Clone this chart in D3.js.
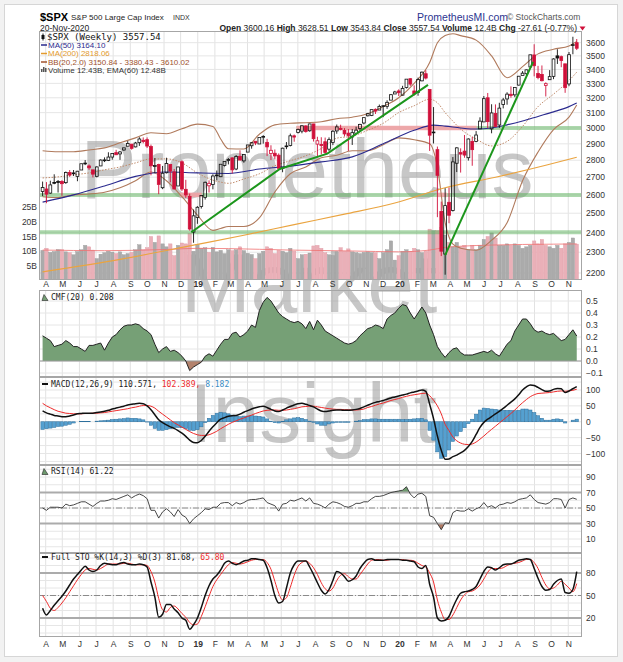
<!DOCTYPE html>
<html><head><meta charset="utf-8">
<script src="https://cdn.jsdelivr.net/npm/d3@7"></script>
<style>
html,body{margin:0;padding:0;background:#f2f2f2;}
svg{display:block;}
</style></head><body>
<svg id="chart" width="623" height="662"></svg>
<script>
// ---------- DATA (weekly) ----------
const weekEnding = d3.timeFriday.range(new Date(2018,2,30), new Date(2020,10,21)); // 139 weekly bars

const open=[2619,2633,2610,2670,2675,2675,2669,2727,2725,2705,2742,2783,2766,2743,2705,2766,2797,2799,2819,2846,2838,2862,2885,2898,2881,2907,2922,2926,2883,2764,2774,2640,2726,2774,2731,2650,2791,2631,2591,2401,
2477,2536,2585,2651,2658,2713,2703,2769,2798,2814,2748,2823,2796,2849,2888,2916,2899,2941,2909,2840,2842,2830,2752,2886,2890,2950,2971,2980,3013,2982,3026,2898,2896,2913,2867,2909,2981,2996,2984,2967,2943,2966,2996,3032,3079,3081,3122,3117,3144,3142,3184,3226,
3247,3218,3271,3333,3247,3236,3318,3369,3258,2974,2864,2509,2291,2559,2515,2782,2846,2855,2815,2915,2914,2994,3039,3200,2994,3094,3019,3155,3192,3224,3220,3288,3356,3369,3418,3507,3370,3364,3286,3326,3350,3500,3494,3441,3296,3583,3600.16];
const high=[2675,2672,2680,2717,2684,2683,2733,2742,2742,2737,2780,2801,2775,2743,2764,2805,2817,2848,2841,2863,2856,2876,2917,2898,2912,2941,2940,2940,2895,2813,2779,2766,2815,2776,2748,2761,2800,2685,2607,2520,
2538,2598,2675,2682,2717,2739,2776,2794,2813,2817,2831,2860,2836,2893,2911,2916,2940,2954,2931,2891,2865,2841,2876,2911,2964,2958,2996,3018,3017,3028,3027,2944,2941,2939,2940,2986,3022,3021,2999,2993,2993,3008,3027,3067,3098,3120,3128,3154,3151,3183,3226,3248,
3258,3283,3330,3338,3286,3341,3385,3394,3260,3137,2883,2563,2637,2641,2819,2879,2872,2955,2934,2944,2980,3069,3212,3233,3156,3155,3166,3199,3238,3279,3272,3353,3388,3400,3509,3588,3426,3429,3307,3395,3482,3550,3502,3441,3529,3646,3628.51];
const low=[2593,2554,2606,2660,2613,2595,2662,2702,2707,2677,2742,2771,2743,2699,2699,2765,2789,2795,2803,2831,2802,2857,2885,2864,2878,2887,2903,2874,2711,2724,2604,2632,2722,2671,2631,2650,2622,2583,2409,2347,
2444,2525,2574,2613,2631,2682,2701,2763,2775,2722,2741,2801,2785,2849,2870,2892,2899,2901,2825,2801,2805,2751,2729,2867,2884,2913,2965,2966,2970,2976,2914,2822,2835,2835,2856,2892,2963,2985,2946,2856,2893,2965,2979,3023,3075,3077,3091,3117,3070,3125,3183,3226,
3212,3215,3264,3282,3215,3214,3315,3328,2856,2902,2479,2281,2192,2447,2509,2730,2727,2815,2798,2767,2910,2994,3039,2999,2966,3005,3000,3128,3153,3200,3204,3285,3356,3355,3418,3350,3329,3314,3209,3324,3330,3440,3416,3234,3280,3512,3543.84];
const close=[2641,2604,2656,2670,2670,2663,2728,2713,2721,2735,2779,2780,2755,2718,2760,2801,2802,2819,2840,2833,2850,2875,2902,2872,2905,2930,2914,2886,2767,2768,2659,2723,2781,2736,2633,2760,2633,2600,2417,2486,
2532,2596,2671,2665,2707,2708,2776,2793,2804,2743,2822,2801,2834,2893,2907,2905,2940,2946,2881,2860,2826,2752,2873,2887,2950,2942,2990,3014,2977,3026,2932,2919,2889,2847,2926,2979,3007,2992,2962,2952,2970,2986,3023,3067,3093,3120,3110,3141,3146,3169,3221,3240,
3235,3265,3330,3295,3226,3328,3380,3338,2954,2972,2711,2305,2541,2489,2790,2875,2837,2831,2930,2864,2955,3044,3194,3041,3098,3009,3130,3185,3225,3216,3271,3351,3373,3397,3508,3427,3341,3319,3298,3348,3477,3484,3465,3270,3509,3585,3557.54];
const volume=[10.3,11.0,9.6,9.9,10.6,10.6,9.8,9.5,8.8,9.9,10.5,12.0,11.5,10.4,7.5,9.0,9.5,10.0,9.7,9.2,9.8,8.8,9.2,9.6,10.5,12.2,10.5,11.2,15.0,13.0,15.2,12.5,11.5,12.5,8.5,12.0,12.8,12.5,16.0,10.0,
12.3,11.0,11.2,9.6,11.3,9.8,10.3,9.2,10.5,10.2,10.5,11.5,10.2,9.3,8.9,7.5,9.2,10.0,11.5,11.0,9.2,10.3,10.0,9.5,11.0,10.0,7.5,8.8,9.0,9.4,11.8,12.0,11.0,9.5,8.8,8.5,9.8,11.2,10.0,10.8,9.8,9.5,9.2,9.6,9.8,9.5,9.5,7.5,9.5,10.5,13.5,7.0,
8.5,10.0,10.5,10.0,11.0,10.5,9.5,10.0,17.5,17.0,17.0,18.0,15.5,13.0,11.5,13.0,11.5,12.0,10.5,12.0,10.5,12.0,14.0,15.0,16.2,14.5,12.0,12.0,12.5,12.0,12.5,12.0,11.0,11.5,12.0,13.5,12.5,14.0,12.0,11.5,11.0,12.0,11.0,12.5,13.0,14.5,12.43];

const volEmaWeek=[0,16,32,40,48,64,80,92,100,104,108,116,124,132,138];
const volEma=[10.4,10.2,10.6,11.0,10.9,10.4,10.1,9.8,10.4,11.3,11.7,12.1,12.3,12.4,12.48];

const ma50Week=[0,8,16,24,32,40,48,56,64,72,80,88,96,101,104,108,112,116,120,124,128,132,136,138];
const ma50=[2560,2600,2650,2705,2730,2725,2722,2748,2765,2790,2820,2900,2985,3018,3012,3000,2993,3000,3020,3045,3075,3105,3140,3164.10];
const ma200Week=[0,20,39,52,65,78,91,104,117,130,138];
const ma200=[2205,2265,2335,2385,2440,2495,2555,2640,2700,2770,2818.06];

const bbWeek=[0,4,8,12,16,20,24,28,32,36,40,44,46,48,52,56,60,64,68,72,76,80,84,88,92,96,100,102,104,106,108,112,116,120,124,128,132,136,138];
const bbUpper=[2857,2851,2851,2862,2875,2906,2937,2969,2963,2995,3025,3010,2930,2870,2868,2960,3020,3030,3034,3040,3060,3070,3092,3140,3200,3300,3450,3600,3655,3670,3655,3620,3500,3340,3420,3515,3550,3575,3610.02];
const bbMid=[2696,2702,2714,2725,2743,2760,2784,2808,2808,2784,2725,2683,2672,2665,2690,2720,2767,2797,2827,2871,2935,2948,2985,3030,3100,3146,3190,3166,3100,3044,2993,2930,2887,2915,3010,3140,3225,3320,3380.43];
const bbLower=[2590,2585,2600,2605,2615,2640,2680,2730,2680,2590,2490,2410,2420,2430,2430,2475,2616,2720,2760,2815,2830,2857,2857,2894,2937,2925,2900,2760,2450,2340,2320,2310,2360,2450,2680,2850,2990,3070,3150.84];

// support / resistance annotations
const supportPrice=[2400,2600,3000];
const supportFrom=['2018-03-23','2018-03-23','2019-07-02'];
const resistPrice=[3000,2600,2600];
const resistFrom=['2019-07-02','2018-12-03','2020-03-14'];
const resistTo=['2020-05-23','2019-01-12','2020-03-30'];
const trendA=[['2018-12-24',2400],['2019-06-02',2748],['2019-08-27',2840],['2020-02-25',3290]];
const trendB=[['2020-03-27',2286],['2020-09-02',3455]];

const cmf=[0.21,0.19,0.17,0.12,0.13,0.14,0.17,0.15,0.12,0.12,0.10,0.08,0.13,0.13,0.14,0.15,0.09,0.15,0.20,0.22,
0.26,0.29,0.30,0.30,0.31,0.30,0.27,0.25,0.22,0.14,0.07,0.10,0.12,0.08,0.09,0.07,0.04,0.00,-0.08,-0.05,
-0.03,-0.01,0.04,0.06,0.04,0.09,0.14,0.18,0.18,0.23,0.24,0.20,0.22,0.25,0.30,0.28,0.42,0.49,0.53,0.50,
0.45,0.40,0.37,0.35,0.33,0.32,0.33,0.31,0.27,0.33,0.26,0.34,0.30,0.25,0.23,0.21,0.19,0.17,0.15,0.14,
0.15,0.17,0.21,0.24,0.27,0.28,0.30,0.29,0.27,0.35,0.38,0.40,0.44,0.47,0.46,0.40,0.35,0.40,0.45,0.40,
0.30,0.22,0.12,0.07,0.03,0.07,0.10,0.11,0.07,0.05,0.05,0.05,0.06,0.07,0.08,0.07,0.09,0.06,0.04,0.09,
0.14,0.17,0.25,0.30,0.35,0.35,0.31,0.26,0.24,0.25,0.23,0.22,0.23,0.20,0.17,0.18,0.22,0.26,0.208];

const macd=[34,28,24,20,18,16,16,18,21,25,26,27,27,27,29,31,33,36,40,43,46,49,53,55,57,58,57,50,38,22,
6,-3,-10,-16,-21,-28,-36,-46,-58,-65,-66,-59,-46,-30,-16,-3,8,13,17,19,20,24,30,35,40,44,47,49,45,39,
34,32,37,43,48,53,57,58,55,51,47,40,34,32,34,36,37,37,36,36,37,39,42,47,52,57,61,64,67,71,
75,78,81,84,87,91,94,97,100,96,55,10,-45,-90,-118,-117,-110,-105,-98,-90,-78,-62,-40,-18,-2,8,16,25,33,42,
52,62,72,85,100,110,116,114,108,101,96,97,102,105,104,92,97,104,110.571];
const signal=[58,50,44,38,33,30,27,26,25,25,25,26,26,27,27,28,29,31,33,35,37,39,41,44,46,49,51,51,49,43,
33,24,15,6,-3,-10,-17,-24,-31,-37,-41,-43,-43,-41,-36,-30,-22,-15,-8,-2,3,8,12,17,21,26,30,34,36,37,
37,36,36,37,39,41,44,47,48,49,49,47,45,43,41,40,39,39,38,38,37,37,38,40,45,48,52,56,59,63,
67,70,73,77,80,83,85,87,89,90,82,68,50,25,-8,-28,-48,-60,-67,-71,-72,-70,-64,-55,-45,-34,-24,-14,-4,6,
16,26,37,49,60,70,79,85,89,90,91,92,94,96,97,96,97,99,102.389];
const hist=[-24,-22,-20,-18,-15,-14,-11,-8,-4,0,1,1,1,0,2,3,4,5,7,8,9,10,12,11,11,9,6,-1,-11,-21,
-27,-27,-25,-22,-18,-18,-19,-22,-27,-28,-25,-16,-3,11,20,27,30,28,25,21,17,16,18,18,19,18,17,15,9,2,
-3,-4,1,6,9,12,13,11,7,2,-2,-7,-11,-11,-7,-4,-2,-2,-2,-2,0,2,4,7,7,9,9,8,8,8,
8,8,8,7,7,8,9,10,11,6,-27,-58,-95,-115,-110,-89,-62,-45,-31,-19,-6,8,24,37,43,42,40,39,37,36,
36,36,35,36,40,40,37,29,19,11,5,5,8,9,7,-4,0,5,8.182];

const rsi=[50,47,51,51,51,50,55,53,54,56,58,58,55,52,56,59,59,60,62,61,63,65,67,63,66,68,66,62,47,47,
37,45,49,45,39,48,41,38,30,36,40,44,49,48,51,51,56,57,57,53,57,55,57,60,61,61,62,63,57,55,
53,46,55,56,60,59,61,63,59,63,56,55,53,50,55,58,57,55,52,51,53,56,56,58,58,62,65,65,66,68,
70,71,72,73,77.5,68,63,68,69,65,40,38,30,22,31,30,44,47,46,46,49,46,49,51,57,51,53,50,54,55,
57,56,58,61,62,63,67,61,57,56,55,57,62,62,61,50,61,63,61.22];

const stoK=[33,24,30,37,43,49,56,64,72,78,84,89,84,82,84,90,93,92,91,91,93,94,92,91,91,92,91,88,68,48,
21,25,38,38,32,27,20,17,5,11,20,34,50,63,72,77,84,93,96,93,91,93,96,97,99,99,98,97,87,70,
50,40,42,60,80,91,96,96,96,88,78,67,57,52,58,70,82,80,75,69,71,76,86,93,98,99,97,97,97,98,
98,98,98,97,97,96,95,88,86,90,65,48,20,16,17,22,34,45,53,55,56,58,62,72,82,88,87,84,87,91,
92,92,94,97,98,99,98,86,73,62,57,58,65,70,72,54,53,58,81.68];
const stoD=[50,42,33,30,34,40,47,55,63,71,78,84,86,85,84,86,89,92,92,92,92,93,93,92,91,91,91,90,82,68,
46,31,28,34,36,32,26,21,14,11,12,22,35,49,62,71,78,85,91,94,93,92,93,95,97,98,98,98,94,85,
69,53,44,47,61,77,89,94,96,93,87,78,67,59,56,60,70,77,79,75,72,72,78,85,92,97,98,98,97,97,
98,98,98,98,97,97,96,93,90,88,80,68,44,28,18,18,24,34,44,51,55,56,59,64,72,81,86,86,86,87,
90,92,93,94,96,98,98,94,86,74,64,59,60,64,69,65,60,55,65.80];

// tick labels
const priceTicks=[2200,2300,2400,2500,2600,2700,2800,2900,3000,3100,3200,3300,3400,3500,3600];
const volTicks=[5,10,15,20,25];
const cmfTicks=[-0.1,0,0.1,0.2,0.3,0.4,0.5];
const macdTicks=[-100,-50,0,50,100];
const macdGrid=[-125,-100,-75,-50,-25,0,25,50,75,100,125];
const rsiTicks=[10,30,50,70,90];
const oscGrid=[0,10,20,30,40,50,60,70,80,90,100];
const stoTicks=[20,50,80];

// ---------- LAYOUT ----------
const FONT='"Liberation Sans",Arial,sans-serif';
const MONO='"DejaVu Sans Mono",monospace';
const X0=39, X1=582;
const P={main:[31,280],cmf:[290,377],macd:[377,465],rsi:[465,553],sto:[553,637]};
const RED='#d0103a';
const parse=d3.timeParse('%Y-%m-%d');

const svg=d3.select('#chart');
svg.append('rect').attr('x',4.5).attr('y',4.5).attr('width',613).attr('height',652)
  .attr('fill','#fff').attr('stroke','#d6d6d6');

const x=d3.scaleTime().domain([new Date(2018,2,23,12),new Date(2020,10,29,12)]).range([X0,X1]);
const xi=i=>x(weekEnding[i]);
const months=d3.timeMonth.range(new Date(2018,3,1),new Date(2020,10,2));
const mx=m=>x(m)+2;

const yP=d3.scaleLog().domain([2200,3600]).range([273,42.7]);
const yV=d3.scaleLinear().domain([0,25]).range([280.75,207]);
const yC=d3.scaleLinear().domain([-0.1,0.5]).range([373,301]);
const yM=d3.scaleLinear().domain([-100,100]).range([453.5,390]);
const yR=d3.scaleLinear().domain([10,90]).range([539,477]);
const yS=d3.scaleLinear().domain([20,80]).range([618,573]);

const defs=svg.append('defs');
Object.entries(P).forEach(([k,[t,b]])=>{
  defs.append('clipPath').attr('id','clip-'+k).append('rect')
    .attr('x',X0).attr('y',t).attr('width',X1-X0).attr('height',b-t);
});

// ---------- GRIDS ----------
const grid=svg.append('g');
Object.entries(P).forEach(([k,[t,b]])=>{
  grid.append('g').selectAll('line').data(months).join('line')
    .attr('x1',mx).attr('x2',mx).attr('y1',t).attr('y2',b)
    .attr('stroke','#e2e2e2').attr('stroke-width',1);
});
function hgrid(vals,scale,k){
  grid.append('g').attr('clip-path',`url(#clip-${k})`).selectAll('line').data(vals).join('line')
    .attr('x1',X0).attr('x2',X1).attr('y1',d=>scale(d)).attr('y2',d=>scale(d))
    .attr('stroke','#e6e6e6').attr('stroke-width',1);
}
hgrid(priceTicks,yP,'main');
hgrid(cmfTicks,yC,'cmf');
hgrid(macdGrid,yM,'macd');
hgrid(oscGrid,d=>yR(d),'rsi');
hgrid(oscGrid,d=>yS(d),'sto');

// ---------- WATERMARK ----------
const wm=svg.append('g').attr('fill','#9a9a9a').attr('opacity',0.55)
  .attr('font-family',FONT).attr('font-size',84).attr('text-anchor','middle');
wm.append('text').attr('x',307).attr('y',198).text('Prometheus');
wm.append('text').attr('x',309).attr('y',312).text('Market');
wm.append('text').attr('x',313).attr('y',442).text('Insight');

// ---------- MAIN PANEL ----------
const main=svg.append('g').attr('clip-path','url(#clip-main)');
const idx=d3.range(close.length);
const isUp=i=> i===0 ? close[i]>=open[i] : close[i]>=close[i-1];

// volume
main.append('g').selectAll('rect').data(idx).join('rect')
  .attr('x',i=>xi(i)-1.7).attr('width',3.4)
  .attr('y',i=>yV(volume[i])).attr('height',i=>yV(0)-yV(volume[i]))
  .attr('fill',i=>isUp(i)?'#ababab':'#eab0b8')
  .attr('stroke',i=>isUp(i)?'#9a9a9a':'#e09aa4').attr('stroke-width',0.4);
main.append('path').datum(volEma)
  .attr('d',d3.line().x((d,k)=>xi(volEmaWeek[k])).y(d=>yV(d)).curve(d3.curveMonotoneX))
  .attr('fill','none').attr('stroke','#f07070').attr('stroke-width',1).attr('opacity',0.8);

// horizontal annotation bands
supportPrice.forEach((p,k)=>{
  main.append('line').attr('x1',x(parse(supportFrom[k]))).attr('x2',X1)
    .attr('y1',yP(p)).attr('y2',yP(p))
    .attr('stroke','#5db35d').attr('stroke-width',4).attr('opacity',0.5);
});
resistPrice.forEach((p,k)=>{
  main.append('line').attr('x1',x(parse(resistFrom[k]))).attr('x2',x(parse(resistTo[k])))
    .attr('y1',yP(p)).attr('y2',yP(p))
    .attr('stroke','#f5a3aa').attr('stroke-width',4.5).attr('opacity',0.9);
});

// bollinger, MAs
const bbLine=arr=>d3.line().x((d,k)=>xi(bbWeek[k])).y(d=>yP(d)).curve(d3.curveMonotoneX)(arr);
main.append('path').attr('d',bbLine(bbUpper)).attr('fill','none').attr('stroke','#b07a5c').attr('stroke-width',1.1);
main.append('path').attr('d',bbLine(bbLower)).attr('fill','none').attr('stroke','#b07a5c').attr('stroke-width',1.1);
main.append('path').attr('d',bbLine(bbMid)).attr('fill','none').attr('stroke','#c08a6a').attr('stroke-width',1).attr('stroke-dasharray','1.5,1.5');
main.append('path').datum(ma200)
  .attr('d',d3.line().x((d,k)=>xi(ma200Week[k])).y(d=>yP(d)).curve(d3.curveMonotoneX))
  .attr('fill','none').attr('stroke','#eaa440').attr('stroke-width',1.2);
main.append('path').datum(ma50)
  .attr('d',d3.line().x((d,k)=>xi(ma50Week[k])).y(d=>yP(d)).curve(d3.curveMonotoneX))
  .attr('fill','none').attr('stroke','#2a2a8e').attr('stroke-width',1.1);

// candles
const cg=main.append('g');
idx.forEach(i=>{
  const col=isUp(i)?'#111':RED;
  const cx=xi(i);
  const top=yP(Math.max(open[i],close[i])), bot=yP(Math.min(open[i],close[i]));
  cg.append('line').attr('x1',cx).attr('x2',cx).attr('y1',yP(high[i])).attr('y2',top).attr('stroke',col).attr('stroke-width',0.9);
  cg.append('line').attr('x1',cx).attr('x2',cx).attr('y1',bot).attr('y2',yP(low[i])).attr('stroke',col).attr('stroke-width',0.9);
  const hollow=close[i]>open[i];
  cg.append('rect').attr('x',cx-1.4).attr('width',2.8).attr('y',top).attr('height',Math.max(0.8,bot-top))
    .attr('fill',hollow?'none':col).attr('stroke',col).attr('stroke-width',0.8);
});

// trend lines
const tl=d3.line().x(d=>x(parse(d[0]))).y(d=>yP(d[1]));
[trendA,trendB].forEach(t=>main.append('path').attr('d',tl(t)).attr('fill','none')
  .attr('stroke','#1c961c').attr('stroke-width',2));

// ---------- CMF ----------
const cm=svg.append('g').attr('clip-path','url(#clip-cmf)');
const z0=yC(0);
defs.append('clipPath').attr('id','cmf-pos').append('rect').attr('x',X0).attr('y',P.cmf[0]).attr('width',X1-X0).attr('height',z0-P.cmf[0]);
defs.append('clipPath').attr('id','cmf-neg').append('rect').attr('x',X0).attr('y',z0).attr('width',X1-X0).attr('height',P.cmf[1]-z0);
const cmfArea=d3.area().x((d,i)=>xi(i)).y0(z0).y1(d=>yC(d));
cm.append('g').attr('clip-path','url(#cmf-pos)').append('path').datum(cmf).attr('d',cmfArea).attr('fill','#76a076');
cm.append('g').attr('clip-path','url(#cmf-neg)').append('path').datum(cmf).attr('d',cmfArea).attr('fill','#b3826c');
cm.append('line').attr('x1',X0).attr('x2',X1).attr('y1',z0).attr('y2',z0).attr('stroke','#9a9a9a');
cm.append('path').datum(cmf).attr('d',d3.line().x((d,i)=>xi(i)).y(d=>yC(d))).attr('fill','none').attr('stroke','#222').attr('stroke-width',1);

// ---------- MACD ----------
const mg=svg.append('g').attr('clip-path','url(#clip-macd)');
mg.append('g').selectAll('rect').data(hist).join('rect')
  .attr('x',(d,i)=>xi(i)-1.7).attr('width',3.4)
  .attr('y',d=>Math.min(yM(d),yM(0))).attr('height',d=>Math.abs(yM(d)-yM(0)))
  .attr('fill','#55a0d0').attr('stroke','#2d6f9c').attr('stroke-width',0.5);
mg.append('path').datum(signal).attr('d',d3.line().x((d,i)=>xi(i)).y(d=>yM(d)).curve(d3.curveMonotoneX))
  .attr('fill','none').attr('stroke','#ee2b2b').attr('stroke-width',1);
mg.append('path').datum(macd).attr('d',d3.line().x((d,i)=>xi(i)).y(d=>yM(d)).curve(d3.curveMonotoneX))
  .attr('fill','none').attr('stroke','#111').attr('stroke-width',1.5);

// ---------- RSI ----------
const rg=svg.append('g').attr('clip-path','url(#clip-rsi)');
const y70=yR(70), y30=yR(30);
defs.append('clipPath').attr('id','rsi-hi').append('rect').attr('x',X0).attr('y',P.rsi[0]).attr('width',X1-X0).attr('height',y70-P.rsi[0]);
defs.append('clipPath').attr('id','rsi-lo').append('rect').attr('x',X0).attr('y',y30).attr('width',X1-X0).attr('height',P.rsi[1]-y30);
rg.append('g').attr('clip-path','url(#rsi-hi)').append('path').datum(rsi)
  .attr('d',d3.area().x((d,i)=>xi(i)).y0(y70).y1(d=>yR(d))).attr('fill','#6e9a6e');
rg.append('g').attr('clip-path','url(#rsi-lo)').append('path').datum(rsi)
  .attr('d',d3.area().x((d,i)=>xi(i)).y0(y30).y1(d=>yR(d))).attr('fill','#b07a64');
[70,30].forEach(v=>rg.append('line').attr('x1',X0).attr('x2',X1).attr('y1',yR(v)).attr('y2',yR(v)).attr('stroke','#ababab').attr('stroke-width',2));
rg.append('line').attr('x1',X0).attr('x2',X1).attr('y1',yR(50)).attr('y2',yR(50)).attr('stroke','#8a8a8a').attr('stroke-dasharray','6,2,1,2');
rg.append('path').datum(rsi).attr('d',d3.line().x((d,i)=>xi(i)).y(d=>yR(d)))
  .attr('fill','none').attr('stroke','#333').attr('stroke-width',0.9);

// ---------- STO ----------
const sg=svg.append('g').attr('clip-path','url(#clip-sto)');
[80,20].forEach(v=>sg.append('line').attr('x1',X0).attr('x2',X1).attr('y1',yS(v)).attr('y2',yS(v)).attr('stroke','#ababab').attr('stroke-width',2));
sg.append('line').attr('x1',X0).attr('x2',X1).attr('y1',yS(50)).attr('y2',yS(50)).attr('stroke','#8a8a8a').attr('stroke-dasharray','6,2,1,2');
sg.append('path').datum(stoD).attr('d',d3.line().x((d,i)=>xi(i)).y(d=>yS(d)).curve(d3.curveMonotoneX))
  .attr('fill','none').attr('stroke','#ee2b2b').attr('stroke-width',1);
sg.append('path').datum(stoK).attr('d',d3.line().x((d,i)=>xi(i)).y(d=>yS(d)).curve(d3.curveMonotoneX))
  .attr('fill','none').attr('stroke','#111').attr('stroke-width',1.5);

// ---------- BORDERS ----------
Object.values(P).forEach(([t,b])=>{
  svg.append('rect').attr('x',X0+0.5).attr('y',t+0.5).attr('width',X1-X0-1).attr('height',b-t-1)
    .attr('fill','none').attr('stroke','#a6a6a6');
});

// ---------- AXES ----------
function rAxis(scale,ticks,fmt){
  const g=svg.append('g').attr('transform',`translate(${X1+2},0)`)
    .call(d3.axisRight(scale).tickValues(ticks).tickSize(0).tickPadding(2).tickFormat(fmt));
  g.select('.domain').remove();
  g.attr('font-family',FONT).attr('font-size',8.5).attr('color','#333');
}
rAxis(yP,priceTicks,d3.format('d'));
rAxis(yC,cmfTicks,d3.format('.1f'));
rAxis(yM,macdTicks,d3.format('d'));
rAxis(yR,rsiTicks,d3.format('d'));
rAxis(yS,stoTicks,d3.format('d'));
const lv=svg.append('g').attr('transform',`translate(${X0-1},0)`)
  .call(d3.axisLeft(yV).tickValues(volTicks).tickSize(0).tickPadding(1).tickFormat(d=>d+'B'));
lv.select('.domain').remove();
lv.attr('font-family',FONT).attr('font-size',8.5).attr('color','#333');

function monthAxis(yPos,pad){
  const g=svg.append('g').attr('transform',`translate(2,${yPos})`)
    .call(d3.axisBottom(x).tickValues(months).tickSize(0).tickPadding(pad)
      .tickFormat(m=>m.getMonth()===0?d3.timeFormat('%y')(m):d3.timeFormat('%b')(m)[0]));
  g.select('.domain').remove();
  g.attr('font-family',FONT).attr('font-size',8.5).attr('color','#333');
  g.selectAll('text').attr('font-weight',m=>m.getMonth()===0?'bold':'normal');
}
monthAxis(P.main[1],0.5);
monthAxis(P.sto[1],3.5);

// ---------- HEADER ----------
svg.append('text').attr('x',40).attr('y',21).attr('font-family',FONT).attr('font-size',11).attr('font-weight','bold').text('$SPX');
svg.append('text').attr('x',71).attr('y',20).attr('font-family',FONT).attr('font-size',8).attr('fill','#222').text('S&P 500 Large Cap Index');
svg.append('text').attr('x',173).attr('y',20).attr('font-family',FONT).attr('font-size',7).attr('fill','#333').text('INDX');
svg.append('text').attr('x',417).attr('y',21).attr('font-family',FONT).attr('font-size',10.5).attr('fill','#2c3590').text('PrometheusMI.com');
svg.append('text').attr('x',507).attr('y',20).attr('font-family',FONT).attr('font-size',8.5).attr('fill','#555').text('© StockCharts.com');
svg.append('text').attr('x',40).attr('y',30.5).attr('font-family',FONT).attr('font-size',8.5).attr('fill','#222').text('20-Nov-2020');
const hdr=svg.append('text').attr('x',577).attr('y',30.5).attr('text-anchor','end').attr('font-family',FONT).attr('font-size',8.5).attr('fill','#222');
[['Open ',1],['3600.16 ',0],[' High ',1],['3628.51 ',0],[' Low ',1],['3543.84 ',0],[' Close ',1],['3557.54 ',0],[' Volume ',1],['12.4B ',0],[' Chg ',1],['-27.61 (-0.77%)',0]]
  .forEach(([t,b])=>hdr.append('tspan').attr('font-weight',b?'bold':'normal').text(t));
svg.append('path').attr('d','M579.5,26.5 L585.5,26.5 L582.5,30.5 Z').attr('fill',RED);

// ---------- LEGENDS ----------
const lg=svg.append('g');
lg.append('line').attr('x1',43).attr('x2',43).attr('y1',33.5).attr('y2',40.5).attr('stroke','#111');
lg.append('rect').attr('x',41.5).attr('y',35).attr('width',3).attr('height',4).attr('fill','#111');
lg.append('text').attr('x',47).attr('y',39.5).attr('font-family',MONO).attr('font-size',9).attr('fill','#111').text('$SPX (Weekly) 3557.54');
const leg2=[['MA(50) 3164.10','#2a2a8e',47.5],['MA(200) 2818.06','#e39a2e',56],['BB(20,2.0) 3150.84 - 3380.43 - 3610.02','#a0522d',64.5]];
leg2.forEach(([t,c,yy])=>{
  lg.append('line').attr('x1',41).attr('x2',47).attr('y1',yy-2.5).attr('y2',yy-2.5).attr('stroke',c).attr('stroke-width',1.5);
  lg.append('text').attr('x',48).attr('y',yy).attr('font-family',FONT).attr('font-size',8).attr('fill',c).text(t);
});
[[41,3],[43,5],[45,4]].forEach(([bx,bh])=>lg.append('rect').attr('x',bx).attr('y',72-bh).attr('width',1.5).attr('height',bh).attr('fill','#555'));
lg.append('text').attr('x',48).attr('y',73).attr('font-family',FONT).attr('font-size',8).attr('fill','#333').text('Volume 12.43B, EMA(60) 12.48B');

function mountain(x0,yb,col){
  lg.append('path').attr('d',`M${x0},${yb} L${x0+2},${yb-6} L${x0+4},${yb-3} L${x0+6},${yb} Z`).attr('fill',col).attr('stroke','#222').attr('stroke-width',0.6);
}
mountain(42,300.5,'#76a076');
lg.append('text').attr('x',51).attr('y',300).attr('font-family',MONO).attr('font-size',8).attr('fill','#222').text('CMF(20) 0.208');
lg.append('line').attr('x1',42).attr('x2',48).attr('y1',384).attr('y2',384).attr('stroke','#111').attr('stroke-width',2);
const ml=lg.append('text').attr('x',51).attr('y',387).attr('font-family',MONO).attr('font-size',8);
ml.append('tspan').attr('fill','#222').text('MACD(12,26,9) 110.571, ');
ml.append('tspan').attr('fill','#ee2b2b').text('102.389, ');
ml.append('tspan').attr('fill','#3a8cc4').text('8.182');
mountain(42,474.5,'#6e9a6e');
lg.append('text').attr('x',51).attr('y',474).attr('font-family',MONO).attr('font-size',8).attr('fill','#222').text('RSI(14) 61.22');
lg.append('line').attr('x1',42).attr('x2',48).attr('y1',557).attr('y2',557).attr('stroke','#111').attr('stroke-width',2);
const sl=lg.append('text').attr('x',51).attr('y',560).attr('font-family',MONO).attr('font-size',8);
sl.append('tspan').attr('fill','#222').text('Full STO %K(14,3) %D(3) 81.68, ');
sl.append('tspan').attr('fill','#ee2b2b').text('65.80');
</script>
</body></html>
